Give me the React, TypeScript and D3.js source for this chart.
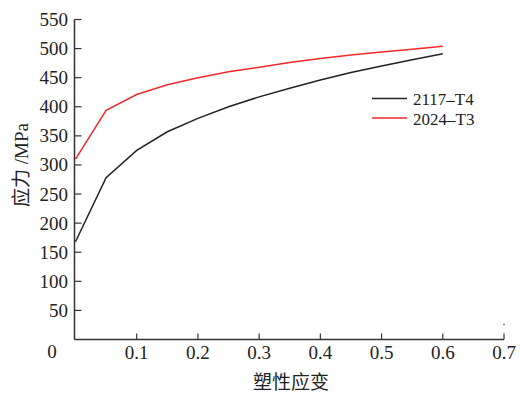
import * as d3 from "d3"

const strainX = [0, 0.05, 0.1, 0.15, 0.2, 0.25, 0.3, 0.35, 0.4, 0.45, 0.5, 0.55, 0.6]
const stress2117 = [168, 278, 325, 357, 380, 400, 417, 432, 446, 459, 470, 481, 491]
const stress2024 = [310, 394, 421, 438, 450, 460, 468, 476, 483, 489, 494, 499, 504]
const seriesNames = ["2117–T4", "2024–T3"]
const seriesColors = ["#222222", "#ee2a2a"]
const yTicks = [50, 100, 150, 200, 250, 300, 350, 400, 450, 500, 550]
const xTicks = [0.1, 0.2, 0.3, 0.4, 0.5, 0.6, 0.7]

const W = 520
const H = 393
const font = "'Liberation Serif', 'Times New Roman', serif"
const cjk = "'Noto Sans CJK SC', 'Noto Serif CJK SC', sans-serif"

export default function App() {
  const x = d3.scaleLinear().domain([0, 0.7]).range([75.5, 504])
  const y = d3.scaleLinear().domain([0, 550]).range([339.5, 19.5])

  const line = d3
    .line<number>()
    .x((_, i) => x(strainX[i]))
    .y((d) => y(d))

  const series = [stress2117, stress2024]

  return (
    <svg
      width={W}
      height={H}
      style={{ position: "absolute", left: 0, top: 0, background: "#fff" }}
    >
      {/* axes */}
      <line x1={x(0) - 1} x2={x(0.7)} y1={y(0)} y2={y(0)} stroke="#333" strokeWidth={1.5} />
      <line x1={x(0) - 1} x2={x(0) - 1} y1={y(0)} y2={y(550)} stroke="#333" strokeWidth={1.5} />

      {yTicks.map((t) => (
        <g key={t}>
          <line x1={x(0) - 1} x2={x(0) + 6} y1={y(t)} y2={y(t)} stroke="#333" strokeWidth={1.2} />
          <text
            x={68}
            y={y(t) + 6.5}
            textAnchor="end"
            fontFamily={font}
            fontSize={19}
            fill="#222"
          >
            {t}
          </text>
        </g>
      ))}
      <text x={52} y={358} textAnchor="middle" fontFamily={font} fontSize={19} fill="#222">
        0
      </text>

      {xTicks.map((t) => (
        <g key={t}>
          <line x1={x(t)} x2={x(t)} y1={y(0)} y2={y(0) - 6} stroke="#333" strokeWidth={1.2} />
          <text
            x={x(t)}
            y={359}
            textAnchor="middle"
            fontFamily={font}
            fontSize={19}
            fill="#222"
          >
            {t.toFixed(1)}
          </text>
        </g>
      ))}
      <circle cx={x(0.7)} cy={324.5} r={0.8} fill="#333" />

      {/* axis titles */}
      <text
        transform={`translate(28,${y(300)}) rotate(-90)`}
        textAnchor="middle"
        fontFamily={font}
        fontSize={19}
        fill="#222"
      >
        <tspan fontFamily={cjk}>应力</tspan>
        <tspan> /MPa</tspan>
      </text>
      <text x={291} y={389} textAnchor="middle" fontFamily={cjk} fontSize={19} fill="#222">
        塑性应变
      </text>

      {/* series */}
      {series.map((s, i) => (
        <path
          key={seriesNames[i]}
          d={line(s) ?? ""}
          fill="none"
          stroke={seriesColors[i]}
          strokeWidth={1.5}
        />
      ))}

      {/* legend */}
      {seriesNames.map((n, i) => (
        <g key={n} transform={`translate(372,${98.5 + i * 19.5})`}>
          <line x1={0} x2={35} y1={0} y2={0} stroke={seriesColors[i]} strokeWidth={1.5} />
          <text x={41} y={6.5} fontFamily={font} fontSize={17} fill="#222">
            {n}
          </text>
        </g>
      ))}
    </svg>
  )
}
